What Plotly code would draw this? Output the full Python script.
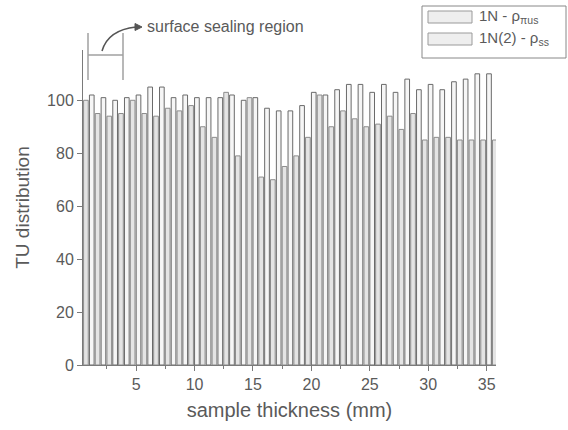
import plotly.graph_objects as go

# ---- data ----
thickness_mm = [0, 1, 2, 3, 4, 5, 6, 7, 8, 9, 10, 11, 12, 13, 14, 15, 16, 17,
                18, 19, 20, 21, 22, 23, 24, 25, 26, 27, 28, 29, 30, 31, 32, 33, 34, 35]
tu_1n = [95, 102, 101, 100, 101, 102, 105, 105, 101, 102, 101, 101, 101, 102, 100, 101, 97, 96,
         96, 98, 103, 102, 104, 106, 106, 103, 106, 103, 108, 104, 106, 104, 107, 108, 110, 110]
tu_1n2 = [100, 95, 94, 95, 100, 95, 94, 97, 96, 98, 90, 86, 103, 79, 101, 71, 70, 75,
          79, 86, 102, 90, 96, 93, 90, 91, 94, 89, 95, 85, 86, 86, 85, 85, 85, 85]
x_ticks = [5, 10, 15, 20, 25, 30, 35]
x_minor = [2.5, 7.5, 12.5, 17.5, 22.5, 27.5, 32.5]
y_ticks = [0, 20, 40, 60, 80, 100]
legend_labels = ["1N - ρ<sub>πus</sub>", "1N(2) - ρ<sub>ss</sub>"]

FONT = "Liberation Sans, Arial, sans-serif"
TXT = "#5a5a5a"
AX = "#7a7a7a"

fig = go.Figure()
fig.add_trace(go.Bar(x=thickness_mm, y=tu_1n2, offset=0.5, width=0.4,
                     marker=dict(color="#e4e4e4", line=dict(color="#8c8c8c", width=1)),
                     name=legend_labels[1], showlegend=False))
fig.add_trace(go.Bar(x=thickness_mm, y=tu_1n, offset=0.0, width=0.4,
                     marker=dict(color="#f6f6f6", line=dict(color="#6a6a6a", width=1)),
                     name=legend_labels[0], showlegend=False))

# plot area geometry in pixels (for paper-coordinate decorations)
L, R, T, B = 83, 496, 50, 365
W, H = R - L, B - T
def px(x):
    return (x - L) / W
def py(y):
    return (B - y) / H

shapes = []
# "H" marker for surface sealing region
for xx in (88, 123):
    shapes.append(dict(type="line", xref="paper", yref="paper",
                       x0=px(xx), x1=px(xx), y0=py(33), y1=py(80),
                       line=dict(color="#a0a0a0", width=1.5)))
shapes.append(dict(type="line", xref="paper", yref="paper",
                   x0=px(88), x1=px(123), y0=py(55), y1=py(55),
                   line=dict(color="#a0a0a0", width=1.5)))
# curved arrow
shapes.append(dict(type="path", xref="paper", yref="paper",
                   path=f"M {px(102)},{py(51)} Q {px(108)},{py(30)} {px(136)},{py(27)}",
                   line=dict(color="#555555", width=1.5)))
shapes.append(dict(type="path", xref="paper", yref="paper",
                   path=f"M {px(135)},{py(23.5)} L {px(142)},{py(27)} L {px(135)},{py(30.5)} Z",
                   fillcolor="#555555", line=dict(color="#555555", width=1)))
# legend box
shapes.append(dict(type="rect", xref="paper", yref="paper",
                   x0=px(422), x1=px(566), y0=py(58), y1=py(6),
                   line=dict(color="#888888", width=1), fillcolor="white"))
for (y0, y1) in ((11, 23), (33, 45)):
    shapes.append(dict(type="rect", xref="paper", yref="paper",
                       x0=px(428), x1=px(472), y0=py(y1), y1=py(y0),
                       line=dict(color="#9a9a9a", width=1), fillcolor="#eeeeee"))

annotations = [
    dict(xref="paper", yref="paper", x=px(145), y=py(26), text="surface sealing region",
         showarrow=False, xanchor="left", yanchor="middle",
         font=dict(family=FONT, size=16, color=TXT)),
    dict(xref="paper", yref="paper", x=px(477), y=py(17), text=legend_labels[0],
         showarrow=False, xanchor="left", yanchor="middle",
         font=dict(family=FONT, size=15, color=TXT)),
    dict(xref="paper", yref="paper", x=px(477), y=py(39), text=legend_labels[1],
         showarrow=False, xanchor="left", yanchor="middle",
         font=dict(family=FONT, size=15, color=TXT)),
]

fig.update_layout(
    width=568, height=430,
    margin=dict(l=L, r=568 - R, t=T, b=430 - B),
    paper_bgcolor="white", plot_bgcolor="white",
    barmode="overlay",
    shapes=shapes, annotations=annotations,
    font=dict(family=FONT, color=TXT),
    xaxis=dict(range=[0.45, 35.8], tickvals=x_ticks, ticks="outside", ticklen=5,
               tickcolor=AX, showline=True, linecolor=AX, linewidth=1,
               showgrid=False, zeroline=False,
               tickfont=dict(family=FONT, size=16, color=TXT),
               minor=dict(tickvals=x_minor, ticks="outside", ticklen=3, tickcolor=AX),
               title=dict(text="sample thickness (mm)", standoff=10,
                          font=dict(family=FONT, size=20, color=TXT))),
    yaxis=dict(range=[0, 119], tickvals=y_ticks, ticks="outside", ticklen=5,
               tickcolor=AX, showline=True, linecolor=AX, linewidth=1,
               showgrid=False, zeroline=False,
               tickfont=dict(family=FONT, size=16, color=TXT),
               title=dict(text="TU distribution", standoff=12,
                          font=dict(family=FONT, size=19, color=TXT))),
)

fig.write_html("out.html")
